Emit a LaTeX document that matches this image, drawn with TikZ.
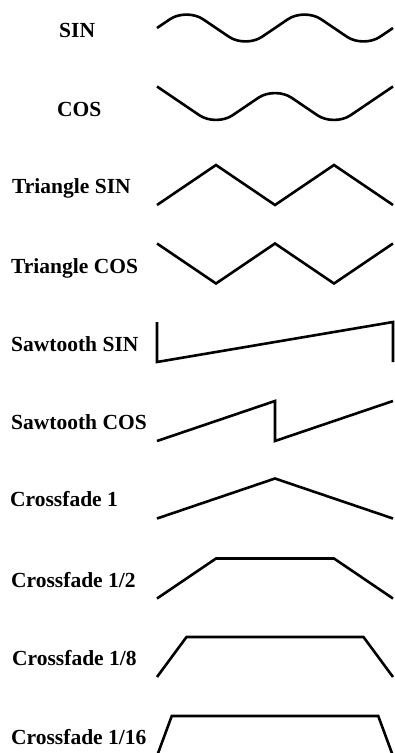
\documentclass[tikz,border=0pt]{standalone}
\usepackage{fontspec}
\setmainfont{Liberation Serif}

\begin{document}
\begin{tikzpicture}[
  x=1pt, y=-1pt,
  lbl/.style={anchor=base west, inner sep=0pt,
              font=\fontsize{21.5}{24}\selectfont\bfseries},
  wave/.style={line width=2.6pt},
  roundwave/.style={wave, rounded corners=20pt}
]
  \useasboundingbox (0,0) rectangle (394,753);

  % labels
  \node[lbl] (sin)    at (59,37)  {SIN};
  \node[lbl] (cos)    at (57,116) {COS};
  \node[lbl] (trisin) at (12,193) {Triangle SIN};
  \node[lbl] (tricos) at (11,273) {Triangle COS};
  \node[lbl] (sawsin) at (11,351) {Sawtooth SIN};
  \node[lbl] (sawcos) at (11,429) {Sawtooth COS};
  \node[lbl] (xf1)    at (10,506) {Crossfade 1};
  \node[lbl] (xf2)    at (11,587) {Crossfade 1/2};
  \node[lbl] (xf8)    at (12,665) {Crossfade 1/8};
  \node[lbl] (xf16)   at (11,744) {Crossfade 1/16};

  % sine / cosine
  \draw[roundwave] (157,28) -- (186.5,8) -- (245.5,48) -- (304.5,8) -- (363.5,48) -- (393,28);
  \draw[roundwave] (157,86.5) -- (216,126.5) -- (275,86.5) -- (334,126.5) -- (393,86.5);

  % triangle
  \draw[wave] (157,205) -- (216,165) -- (275,205) -- (334,165) -- (393,205);
  \draw[wave] (157,243.5) -- (216,283.5) -- (275,243.5) -- (334,283.5) -- (393,243.5);

  % sawtooth
  \draw[wave] (157,322) -- (157,362) -- (393,322) -- (393,362);
  \draw[wave] (157,441) -- (275,401) -- (275,441) -- (393,401);

  % crossfades
  \draw[wave] (157,518.5) -- (275,478.5) -- (393,518.5);
  \draw[wave] (157,598.5) -- (216,558.5) -- (334,558.5) -- (393,598.5);
  \draw[wave] (157,677) -- (186.5,637) -- (363.5,637) -- (393,677);
  \draw[wave] (157,756) -- (171.75,716) -- (378.25,716) -- (393,756);
\end{tikzpicture}
\end{document}
